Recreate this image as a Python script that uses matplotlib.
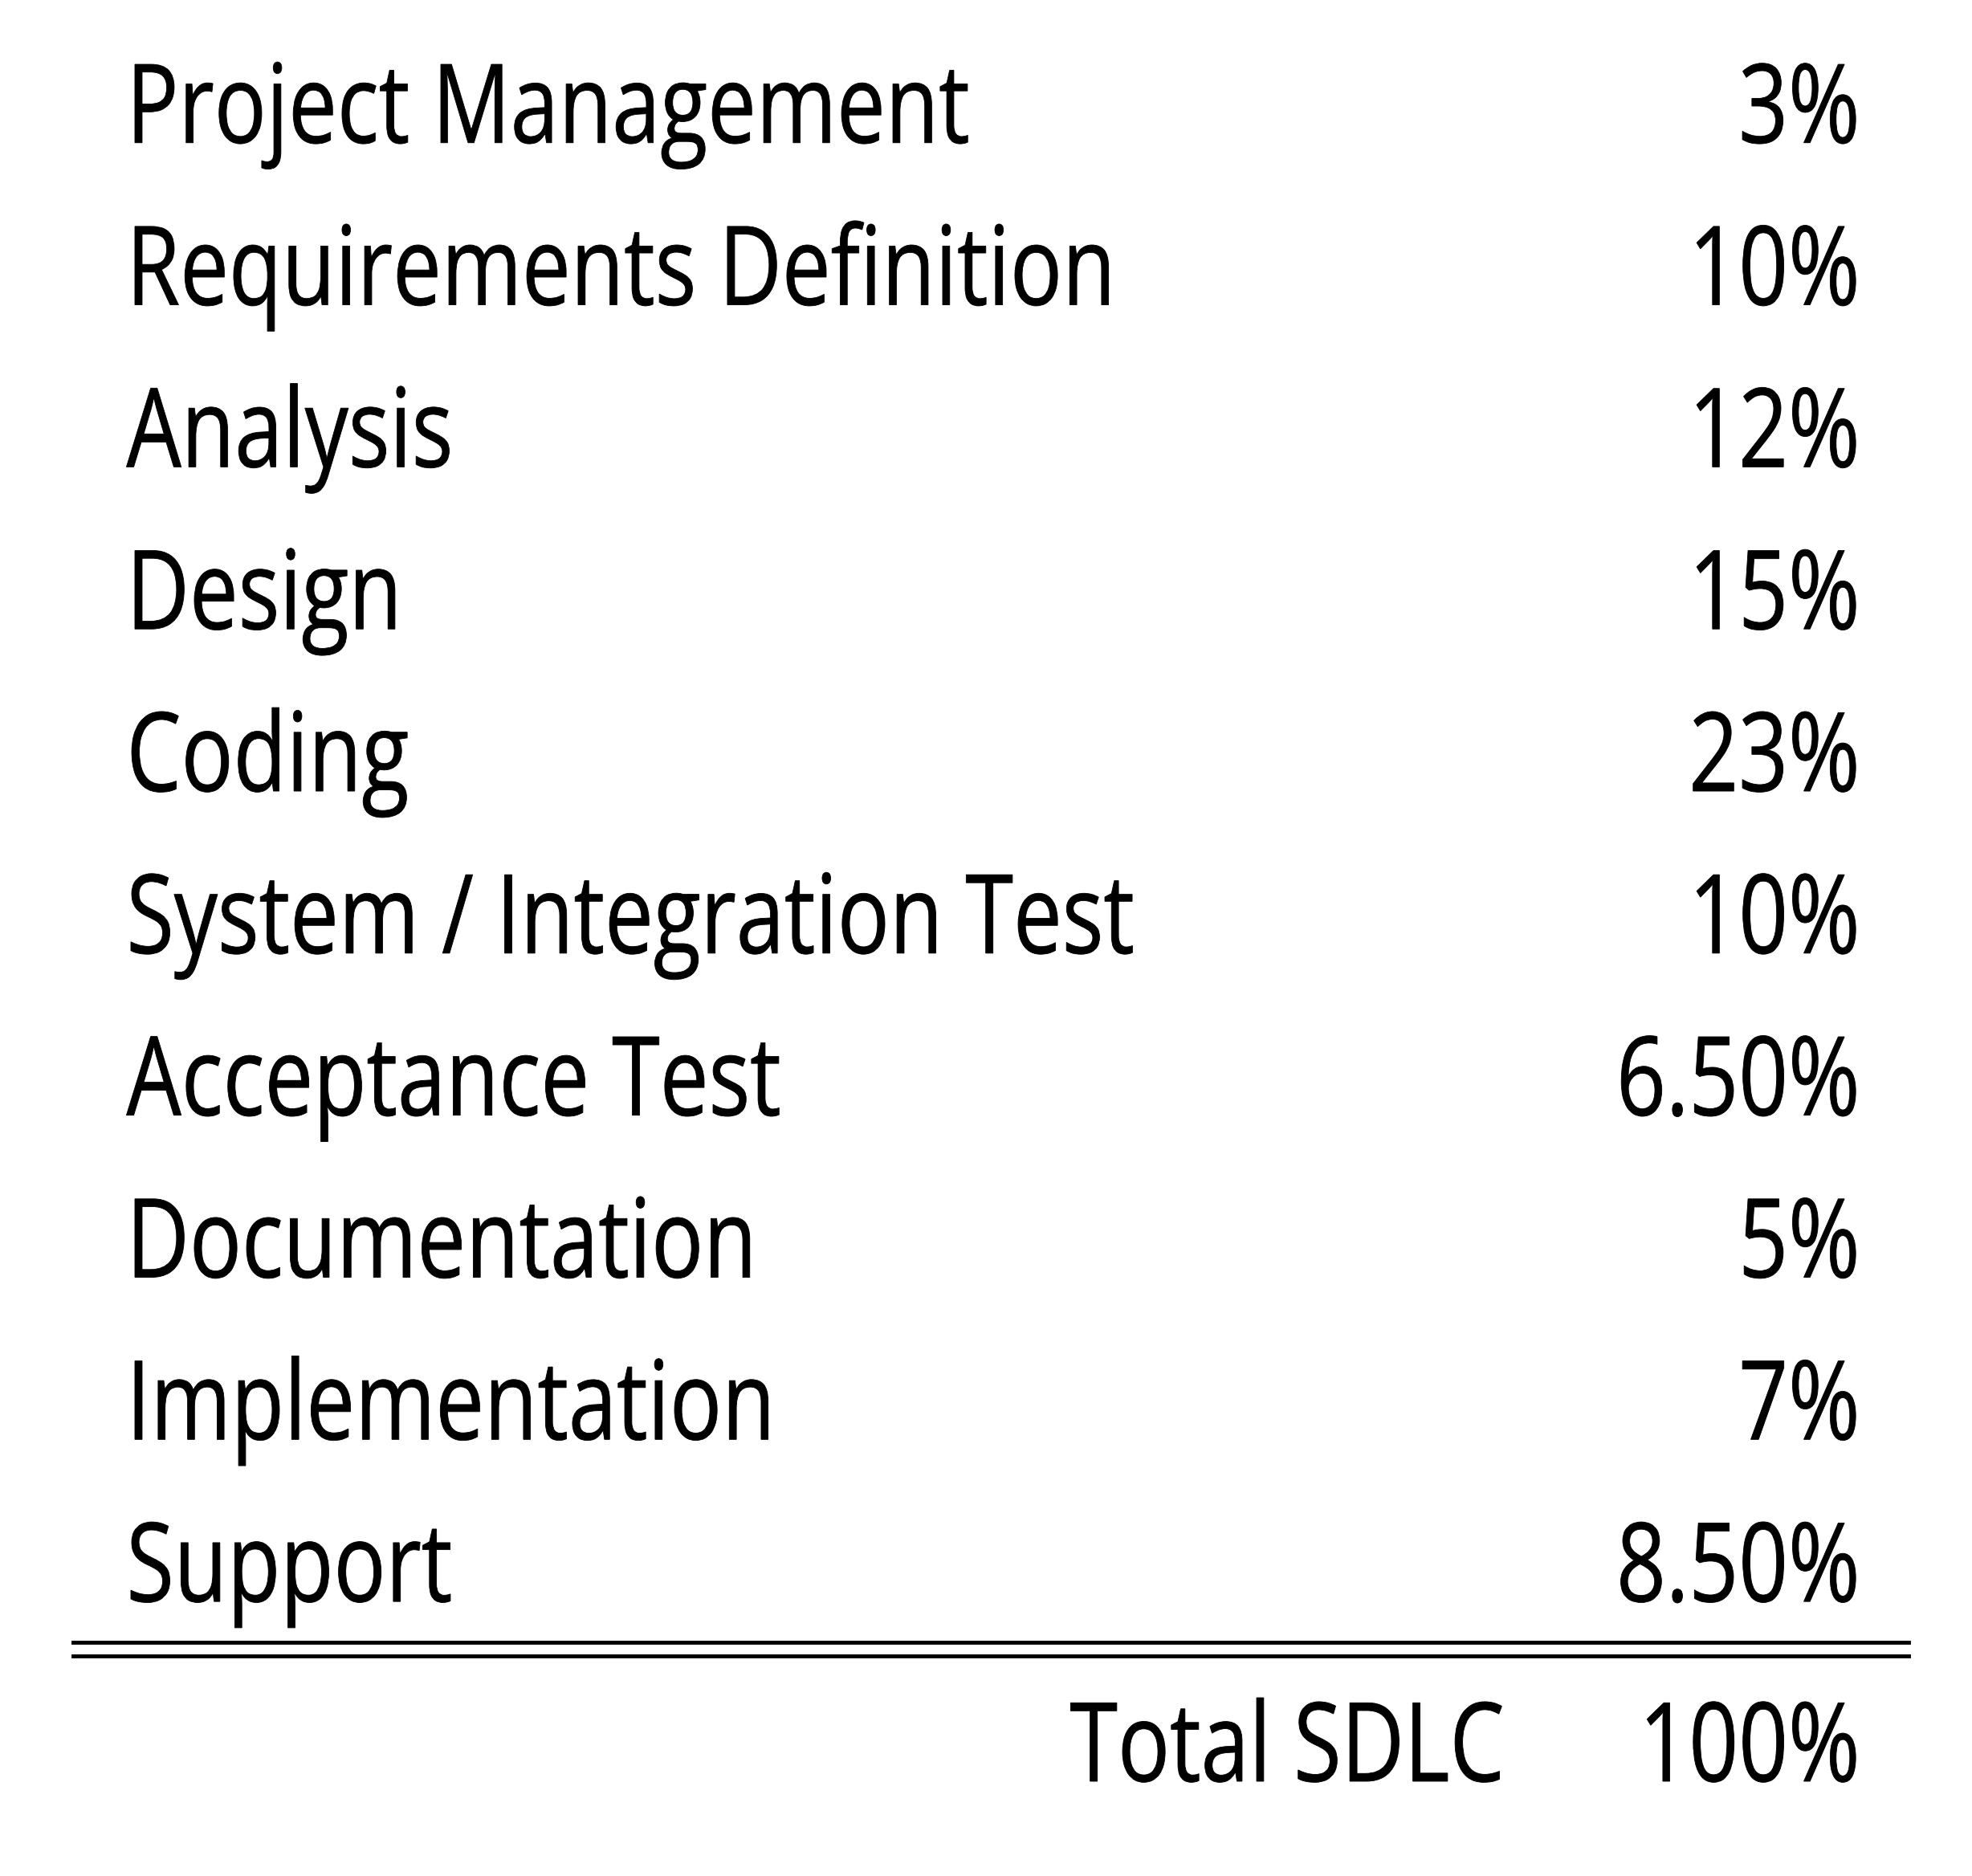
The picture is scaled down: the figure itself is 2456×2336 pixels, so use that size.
import matplotlib
matplotlib.use("Agg")
import matplotlib.pyplot as plt
from matplotlib.textpath import TextPath
from matplotlib.patches import PathPatch
from matplotlib.font_manager import FontProperties
from matplotlib.transforms import Affine2D

phases = ["Project Management", "Requirements Definition", "Analysis", "Design", "Coding",
          "System / Integration Test", "Acceptance Test", "Documentation", "Implementation", "Support"]
values = ["3%", "10%", "12%", "15%", "23%", "10%", "6.50%", "5%", "7%", "8.50%"]
total_label = "Total SDLC"
total_value = "100%"

W, H = 1560.0, 1485.0
fig = plt.figure(figsize=(24.56, 23.36), dpi=100)
ax = fig.add_axes([0, 0, 1, 1])
ax.set_xlim(0, W); ax.set_ylim(H, 0); ax.axis("off")

fp = FontProperties(family="Open Sans")
SIZE = 87.0   # in data units (pixels of reference)
SX = 0.79

def put(s, x, y, align):
    tp = TextPath((0, 0), s, size=SIZE, prop=fp)
    w = tp.get_extents().x1 * SX
    x0 = x - w if align == "right" else x
    tr = Affine2D().scale(SX, -1).translate(x0, y)
    ax.add_patch(PathPatch(tr.transform_path(tp), facecolor="black", edgecolor="black", lw=0.6))

for i, (p, v) in enumerate(zip(phases, values)):
    y = 113 + 128.3 * i
    put(p, 100, y, "left")
    put(v, 1468, y, "right")

ax.plot([58, 1510], [1300, 1300], color="black", lw=3.5)
ax.plot([58, 1510], [1311, 1311], color="black", lw=3.5)
put(total_label, 1188, 1410, "right")
put(total_value, 1468, 1410, "right")

fig.savefig("out.png", dpi=100, facecolor="white")
